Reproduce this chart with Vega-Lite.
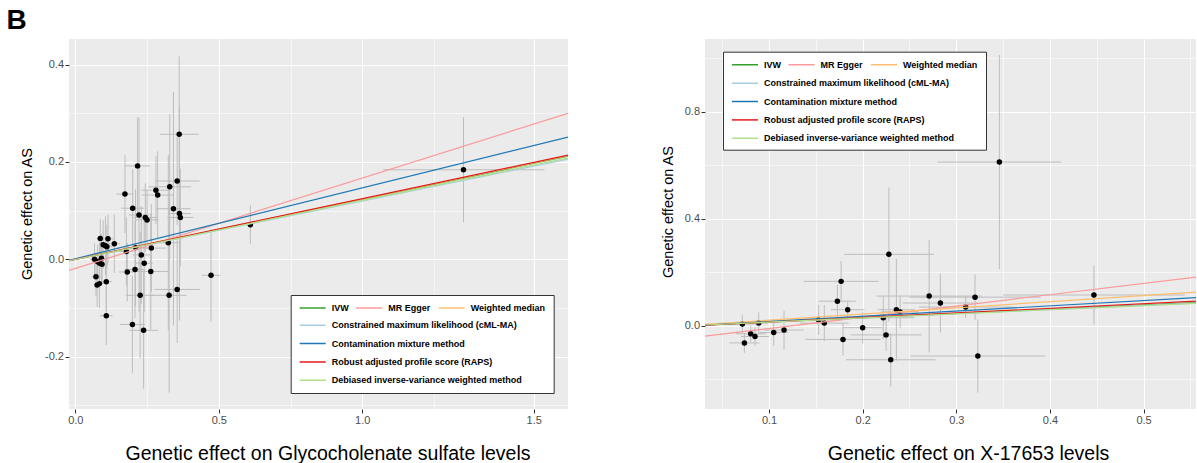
{
  "$schema": "https://vega.github.io/schema/vega-lite/v6.json",
  "background": "white",
  "padding": {"left": 6, "top": 7, "right": 0, "bottom": 0},
  "title": {"text": "B", "anchor": "start", "fontSize": 28, "font": "Liberation Sans", "fontWeight": "bold", "color": "black", "offset": 4, "dx": -13},
  "datasets": {
    "left_pts": [
      {"x":0.067,"y":0.000,"xlo":0.052,"xhi":0.082,"ylo":-0.033,"yhi":0.033},
      {"x":0.072,"y":-0.036,"xlo":0.057,"xhi":0.087,"ylo":-0.076,"yhi":0.004},
      {"x":0.076,"y":-0.053,"xlo":0.064,"xhi":0.088,"ylo":-0.098,"yhi":-0.008},
      {"x":0.084,"y":-0.050,"xlo":0.069,"xhi":0.099,"ylo":-0.100,"yhi":0.000},
      {"x":0.078,"y":-0.005,"xlo":0.066,"xhi":0.090,"ylo":-0.040,"yhi":0.030},
      {"x":0.085,"y":-0.008,"xlo":0.070,"xhi":0.100,"ylo":-0.058,"yhi":0.042},
      {"x":0.091,"y":0.002,"xlo":0.076,"xhi":0.106,"ylo":-0.048,"yhi":0.052},
      {"x":0.087,"y":0.043,"xlo":0.075,"xhi":0.099,"ylo":0.003,"yhi":0.083},
      {"x":0.093,"y":-0.010,"xlo":0.073,"xhi":0.113,"ylo":-0.050,"yhi":0.030},
      {"x":0.097,"y":0.030,"xlo":0.082,"xhi":0.112,"ylo":-0.020,"yhi":0.080},
      {"x":0.105,"y":0.028,"xlo":0.087,"xhi":0.123,"ylo":-0.032,"yhi":0.088},
      {"x":0.110,"y":0.026,"xlo":0.090,"xhi":0.130,"ylo":-0.019,"yhi":0.071},
      {"x":0.114,"y":0.042,"xlo":0.094,"xhi":0.134,"ylo":-0.008,"yhi":0.092},
      {"x":0.108,"y":-0.046,"xlo":0.088,"xhi":0.128,"ylo":-0.106,"yhi":0.014},
      {"x":0.108,"y":-0.116,"xlo":0.086,"xhi":0.130,"ylo":-0.176,"yhi":-0.056},
      {"x":0.136,"y":0.032,"xlo":0.116,"xhi":0.156,"ylo":-0.028,"yhi":0.092},
      {"x":0.173,"y":0.134,"xlo":0.143,"xhi":0.203,"ylo":0.054,"yhi":0.214},
      {"x":0.178,"y":0.016,"xlo":0.153,"xhi":0.203,"ylo":-0.054,"yhi":0.086},
      {"x":0.181,"y":-0.026,"xlo":0.151,"xhi":0.211,"ylo":-0.086,"yhi":0.034},
      {"x":0.200,"y":0.105,"xlo":0.160,"xhi":0.240,"ylo":0.025,"yhi":0.185},
      {"x":0.199,"y":-0.134,"xlo":0.155,"xhi":0.243,"ylo":-0.234,"yhi":-0.034},
      {"x":0.208,"y":-0.021,"xlo":0.173,"xhi":0.243,"ylo":-0.121,"yhi":0.079},
      {"x":0.210,"y":0.024,"xlo":0.170,"xhi":0.250,"ylo":-0.096,"yhi":0.144},
      {"x":0.217,"y":0.192,"xlo":0.174,"xhi":0.260,"ylo":0.092,"yhi":0.292},
      {"x":0.222,"y":0.091,"xlo":0.187,"xhi":0.257,"ylo":-0.109,"yhi":0.291},
      {"x":0.226,"y":-0.074,"xlo":0.176,"xhi":0.276,"ylo":-0.204,"yhi":0.056},
      {"x":0.230,"y":0.009,"xlo":0.200,"xhi":0.260,"ylo":-0.091,"yhi":0.109},
      {"x":0.240,"y":-0.008,"xlo":0.210,"xhi":0.270,"ylo":-0.108,"yhi":0.092},
      {"x":0.238,"y":-0.146,"xlo":0.188,"xhi":0.288,"ylo":-0.266,"yhi":-0.026},
      {"x":0.244,"y":0.086,"xlo":0.204,"xhi":0.284,"ylo":0.016,"yhi":0.156},
      {"x":0.250,"y":0.081,"xlo":0.210,"xhi":0.290,"ylo":0.021,"yhi":0.141},
      {"x":0.263,"y":-0.025,"xlo":0.203,"xhi":0.323,"ylo":-0.145,"yhi":0.095},
      {"x":0.265,"y":0.023,"xlo":0.215,"xhi":0.315,"ylo":-0.067,"yhi":0.113},
      {"x":0.281,"y":0.142,"xlo":0.231,"xhi":0.331,"ylo":0.072,"yhi":0.212},
      {"x":0.287,"y":0.132,"xlo":0.232,"xhi":0.342,"ylo":0.042,"yhi":0.222},
      {"x":0.324,"y":0.034,"xlo":0.284,"xhi":0.364,"ylo":-0.146,"yhi":0.214},
      {"x":0.327,"y":-0.074,"xlo":0.267,"xhi":0.387,"ylo":-0.274,"yhi":0.126},
      {"x":0.329,"y":0.149,"xlo":0.254,"xhi":0.404,"ylo":-0.001,"yhi":0.299},
      {"x":0.342,"y":0.104,"xlo":0.282,"xhi":0.402,"ylo":-0.136,"yhi":0.344},
      {"x":0.355,"y":0.161,"xlo":0.277,"xhi":0.433,"ylo":0.071,"yhi":0.251},
      {"x":0.355,"y":-0.062,"xlo":0.275,"xhi":0.435,"ylo":-0.172,"yhi":0.048},
      {"x":0.362,"y":0.257,"xlo":0.294,"xhi":0.430,"ylo":0.097,"yhi":0.417},
      {"x":0.363,"y":0.094,"xlo":0.323,"xhi":0.403,"ylo":-0.126,"yhi":0.314},
      {"x":0.366,"y":0.086,"xlo":0.321,"xhi":0.411,"ylo":-0.014,"yhi":0.186},
      {"x":0.473,"y":-0.033,"xlo":0.441,"xhi":0.505,"ylo":-0.128,"yhi":0.062},
      {"x":0.610,"y":0.071,"xlo":0.600,"xhi":0.620,"ylo":0.031,"yhi":0.111},
      {"x":1.324,"y":0.184,"xlo":1.073,"xhi":1.527,"ylo":0.076,"yhi":0.292}
    ],
    "right_pts": [
      {"x":0.0715,"y":0.007,"xlo":0.0565,"xhi":0.0865,"ylo":-0.028,"yhi":0.042},
      {"x":0.0737,"y":-0.064,"xlo":0.0577,"xhi":0.0897,"ylo":-0.101,"yhi":-0.027},
      {"x":0.0804,"y":-0.030,"xlo":0.0644,"xhi":0.0964,"ylo":-0.060,"yhi":0.000},
      {"x":0.085,"y":-0.040,"xlo":0.070,"xhi":0.100,"ylo":-0.075,"yhi":-0.005},
      {"x":0.089,"y":0.010,"xlo":0.079,"xhi":0.099,"ylo":-0.030,"yhi":0.050},
      {"x":0.105,"y":-0.025,"xlo":0.090,"xhi":0.120,"ylo":-0.075,"yhi":0.025},
      {"x":0.116,"y":-0.016,"xlo":0.095,"xhi":0.137,"ylo":-0.088,"yhi":0.056},
      {"x":0.153,"y":0.022,"xlo":0.128,"xhi":0.178,"ylo":-0.034,"yhi":0.078},
      {"x":0.159,"y":0.010,"xlo":0.133,"xhi":0.185,"ylo":-0.058,"yhi":0.078},
      {"x":0.173,"y":0.092,"xlo":0.153,"xhi":0.193,"ylo":0.030,"yhi":0.154},
      {"x":0.177,"y":0.166,"xlo":0.137,"xhi":0.217,"ylo":0.090,"yhi":0.242},
      {"x":0.179,"y":-0.051,"xlo":0.139,"xhi":0.219,"ylo":-0.111,"yhi":0.009},
      {"x":0.184,"y":0.060,"xlo":0.166,"xhi":0.202,"ylo":0.030,"yhi":0.090},
      {"x":0.200,"y":-0.007,"xlo":0.179,"xhi":0.221,"ylo":-0.067,"yhi":0.053},
      {"x":0.222,"y":0.030,"xlo":0.189,"xhi":0.255,"ylo":-0.050,"yhi":0.110},
      {"x":0.225,"y":-0.034,"xlo":0.187,"xhi":0.263,"ylo":-0.094,"yhi":0.026},
      {"x":0.228,"y":0.267,"xlo":0.180,"xhi":0.276,"ylo":0.017,"yhi":0.517},
      {"x":0.230,"y":-0.127,"xlo":0.182,"xhi":0.278,"ylo":-0.227,"yhi":-0.027},
      {"x":0.236,"y":0.060,"xlo":0.216,"xhi":0.256,"ylo":-0.130,"yhi":0.250},
      {"x":0.240,"y":0.052,"xlo":0.220,"xhi":0.260,"ylo":-0.008,"yhi":0.112},
      {"x":0.271,"y":0.111,"xlo":0.215,"xhi":0.327,"ylo":-0.099,"yhi":0.321},
      {"x":0.283,"y":0.085,"xlo":0.243,"xhi":0.323,"ylo":-0.025,"yhi":0.195},
      {"x":0.310,"y":0.070,"xlo":0.260,"xhi":0.360,"ylo":0.030,"yhi":0.110},
      {"x":0.320,"y":0.107,"xlo":0.250,"xhi":0.390,"ylo":0.022,"yhi":0.192},
      {"x":0.323,"y":-0.113,"xlo":0.251,"xhi":0.395,"ylo":-0.250,"yhi":0.024},
      {"x":0.346,"y":0.612,"xlo":0.280,"xhi":0.412,"ylo":0.212,"yhi":1.012},
      {"x":0.447,"y":0.115,"xlo":0.350,"xhi":0.544,"ylo":0.005,"yhi":0.225}
    ],
    "left_lines": [
      {"method":"IVW","x":-0.022,"y":-0.003},{"method":"IVW","x":1.586,"y":0.212},
      {"method":"MR Egger","x":-0.022,"y":-0.023},{"method":"MR Egger","x":1.586,"y":0.300},
      {"method":"Weighted median","x":-0.022,"y":-0.003},{"method":"Weighted median","x":1.586,"y":0.213},
      {"method":"Constrained maximum likelihood (cML-MA)","x":-0.022,"y":-0.003},{"method":"Constrained maximum likelihood (cML-MA)","x":1.586,"y":0.206},
      {"method":"Contamination mixture method","x":-0.022,"y":-0.002},{"method":"Contamination mixture method","x":1.586,"y":0.251},
      {"method":"Robust adjusted profile score (RAPS)","x":-0.022,"y":-0.003},{"method":"Robust adjusted profile score (RAPS)","x":1.586,"y":0.214},
      {"method":"Debiased inverse-variance weighted method","x":-0.022,"y":-0.003},{"method":"Debiased inverse-variance weighted method","x":1.586,"y":0.208}
    ],
    "right_lines": [
      {"method":"IVW","x":0.0316,"y":0.003},{"method":"IVW","x":0.556,"y":0.087},
      {"method":"MR Egger","x":0.0316,"y":-0.039},{"method":"MR Egger","x":0.556,"y":0.182},
      {"method":"Weighted median","x":0.0316,"y":0.005},{"method":"Weighted median","x":0.556,"y":0.126},
      {"method":"Constrained maximum likelihood (cML-MA)","x":0.0316,"y":0.003},{"method":"Constrained maximum likelihood (cML-MA)","x":0.556,"y":0.085},
      {"method":"Contamination mixture method","x":0.0316,"y":0.0025},{"method":"Contamination mixture method","x":0.556,"y":0.105},
      {"method":"Robust adjusted profile score (RAPS)","x":0.0316,"y":0.002},{"method":"Robust adjusted profile score (RAPS)","x":0.556,"y":0.092},
      {"method":"Debiased inverse-variance weighted method","x":0.0316,"y":0.003},{"method":"Debiased inverse-variance weighted method","x":0.556,"y":0.084}
    ]
  },
  "spacing": 137,
  "bounds": "flush",
  "resolve": {"scale": {"color": "independent", "stroke": "independent"}, "legend": {"color": "independent", "stroke": "independent"}},
  "hconcat": [
    {
      "width": 499, "height": 370,
      "layer": [
        {
          "data": {"name": "left_pts"},
          "mark": {"type": "rule", "color": "#bdbdbd", "strokeWidth": 1},
          "encoding": {
            "x": {"field": "xlo", "type": "quantitative", "title": "Genetic effect on Glycocholenate sulfate levels",
              "scale": {"domain": [-0.022, 1.25, 1.5, 1.586], "range": [0, 365, 464.7, 499], "nice": false, "zero": false},
              "axis": {"values": [0, 0.25, 0.5, 0.75, 1, 1.25, 1.5], "format": ".1f", "titleX": 258.5,
                "labelExpr": "abs(datum.value*2-round(datum.value*2))<0.001 ? replace(datum.label, '\u2212', '-') : ''",
                "gridWidth": {"condition": {"test": "abs(datum.value*2-round(datum.value*2))<0.001", "value": 1.1}, "value": 0.55},
                "tickOpacity": {"condition": {"test": "abs(datum.value*2-round(datum.value*2))<0.001", "value": 1}, "value": 0}}},
            "x2": {"field": "xhi"},
            "y": {"field": "y", "type": "quantitative", "title": "Genetic effect on AS",
              "scale": {"domain": [-0.3077, 0.4528], "nice": false, "zero": false},
              "axis": {"values": [-0.3, -0.2, -0.1, 0, 0.1, 0.2, 0.3, 0.4], "format": ".1f", "titlePadding": 10, "titleY": 174.5,
                "labelExpr": "abs(datum.value*5-round(datum.value*5))<0.001 ? replace(datum.label, '\u2212', '-') : ''",
                "gridWidth": {"condition": {"test": "abs(datum.value*5-round(datum.value*5))<0.001", "value": 1.1}, "value": 0.55},
                "tickOpacity": {"condition": {"test": "abs(datum.value*5-round(datum.value*5))<0.001", "value": 1}, "value": 0}}}
          }
        },
        {
          "data": {"name": "left_pts"},
          "mark": {"type": "rule", "color": "#bdbdbd", "strokeWidth": 1},
          "encoding": {
            "x": {"field": "x", "type": "quantitative", "title": "Genetic effect on Glycocholenate sulfate levels",
              "scale": {"domain": [-0.022, 1.25, 1.5, 1.586], "range": [0, 365, 464.7, 499], "nice": false, "zero": false}},
            "y": {"field": "ylo", "type": "quantitative", "title": "Genetic effect on AS",
              "scale": {"domain": [-0.3077, 0.4528], "nice": false, "zero": false}},
            "y2": {"field": "yhi"}
          }
        },
        {
          "data": {"name": "left_pts"},
          "mark": {"type": "circle", "color": "black", "size": 30, "opacity": 1},
          "encoding": {
            "x": {"field": "x", "type": "quantitative", "title": "Genetic effect on Glycocholenate sulfate levels",
              "scale": {"domain": [-0.022, 1.25, 1.5, 1.586], "range": [0, 365, 464.7, 499], "nice": false, "zero": false}},
            "y": {"field": "y", "type": "quantitative", "title": "Genetic effect on AS",
              "scale": {"domain": [-0.3077, 0.4528], "nice": false, "zero": false}}
          }
        },
        {
          "data": {"name": "left_lines"},
          "transform": [{"filter": {"field": "method", "oneOf": ["IVW", "MR Egger", "Weighted median"]}}],
          "mark": {"type": "line", "strokeWidth": 1.2, "clip": true},
          "encoding": {
            "x": {"field": "x", "type": "quantitative", "title": "Genetic effect on Glycocholenate sulfate levels",
              "scale": {"domain": [-0.022, 1.25, 1.5, 1.586], "range": [0, 365, 464.7, 499], "nice": false, "zero": false}},
            "y": {"field": "y", "type": "quantitative", "title": "Genetic effect on AS",
              "scale": {"domain": [-0.3077, 0.4528], "nice": false, "zero": false}},
            "stroke": {"field": "method", "type": "nominal",
              "scale": {"domain": ["IVW", "MR Egger", "Weighted median"], "range": ["#33a02c", "#fb9a99", "#fdbf6f"]},
              "legend": {"orient": "none", "legendX": 221.7, "legendY": 256, "direction": "horizontal", "columns": 3,
                "title": "\u00a0", "titleOrient": "bottom", "titleFontSize": 64, "titlePadding": 8,
                "padding": 8, "fillColor": "white", "strokeColor": "#333333"}}
          }
        },
        {
          "data": {"name": "left_lines"},
          "transform": [{"filter": {"field": "method", "oneOf": ["Constrained maximum likelihood (cML-MA)", "Contamination mixture method", "Robust adjusted profile score (RAPS)", "Debiased inverse-variance weighted method"]}}],
          "mark": {"type": "line", "strokeWidth": 1.2, "clip": true},
          "encoding": {
            "x": {"field": "x", "type": "quantitative", "title": "Genetic effect on Glycocholenate sulfate levels",
              "scale": {"domain": [-0.022, 1.25, 1.5, 1.586], "range": [0, 365, 464.7, 499], "nice": false, "zero": false}},
            "y": {"field": "y", "type": "quantitative", "title": "Genetic effect on AS",
              "scale": {"domain": [-0.3077, 0.4528], "nice": false, "zero": false}},
            "color": {"field": "method", "type": "nominal",
              "scale": {"domain": ["Constrained maximum likelihood (cML-MA)", "Contamination mixture method", "Robust adjusted profile score (RAPS)", "Debiased inverse-variance weighted method"], "range": ["#a6cee3", "#1f78b4", "#e31a1c", "#b2df8a"]},
              "legend": {"orient": "none", "legendX": 229.7, "legendY": 281.3, "direction": "vertical", "columns": 1,
                "title": null, "padding": 0}}
          }
        }
      ]
    },
    {
      "width": 491, "height": 370,
      "layer": [
        {
          "data": {"name": "right_pts"},
          "mark": {"type": "rule", "color": "#bdbdbd", "strokeWidth": 1},
          "encoding": {
            "x": {"field": "xlo", "type": "quantitative", "title": "Genetic effect on X-17653 levels",
              "scale": {"domain": [0.0316, 0.556], "nice": false, "zero": false},
              "axis": {"values": [0.05, 0.1, 0.15, 0.2, 0.25, 0.3, 0.35, 0.4, 0.45, 0.5, 0.55], "format": ".1f", "titleX": 263,
                "labelExpr": "abs(datum.value*10-round(datum.value*10))<0.001 ? replace(datum.label, '\u2212', '-') : ''",
                "gridWidth": {"condition": {"test": "abs(datum.value*10-round(datum.value*10))<0.001", "value": 1.1}, "value": 0.55},
                "tickOpacity": {"condition": {"test": "abs(datum.value*10-round(datum.value*10))<0.001", "value": 1}, "value": 0}}},
            "x2": {"field": "xhi"},
            "y": {"field": "y", "type": "quantitative", "title": "Genetic effect on AS",
              "scale": {"domain": [-0.311, 1.0718], "nice": false, "zero": false},
              "axis": {"values": [-0.2, 0, 0.2, 0.4, 0.6, 0.8, 1.0], "format": ".1f", "titlePadding": 9, "titleY": 172.5,
                "labelExpr": "abs(datum.value*2.5-round(datum.value*2.5))<0.001 ? replace(datum.label, '\u2212', '-') : ''",
                "gridWidth": {"condition": {"test": "abs(datum.value*2.5-round(datum.value*2.5))<0.001", "value": 1.1}, "value": 0.55},
                "tickOpacity": {"condition": {"test": "abs(datum.value*2.5-round(datum.value*2.5))<0.001", "value": 1}, "value": 0}}}
          }
        },
        {
          "data": {"name": "right_pts"},
          "mark": {"type": "rule", "color": "#bdbdbd", "strokeWidth": 1},
          "encoding": {
            "x": {"field": "x", "type": "quantitative", "title": "Genetic effect on X-17653 levels",
              "scale": {"domain": [0.0316, 0.556], "nice": false, "zero": false}},
            "y": {"field": "ylo", "type": "quantitative", "title": "Genetic effect on AS",
              "scale": {"domain": [-0.311, 1.0718], "nice": false, "zero": false}},
            "y2": {"field": "yhi"}
          }
        },
        {
          "data": {"name": "right_pts"},
          "mark": {"type": "circle", "color": "black", "size": 30, "opacity": 1},
          "encoding": {
            "x": {"field": "x", "type": "quantitative", "title": "Genetic effect on X-17653 levels",
              "scale": {"domain": [0.0316, 0.556], "nice": false, "zero": false}},
            "y": {"field": "y", "type": "quantitative", "title": "Genetic effect on AS",
              "scale": {"domain": [-0.311, 1.0718], "nice": false, "zero": false}}
          }
        },
        {
          "data": {"name": "right_lines"},
          "transform": [{"filter": {"field": "method", "oneOf": ["IVW", "MR Egger", "Weighted median"]}}],
          "mark": {"type": "line", "strokeWidth": 1.2, "clip": true},
          "encoding": {
            "x": {"field": "x", "type": "quantitative", "title": "Genetic effect on X-17653 levels",
              "scale": {"domain": [0.0316, 0.556], "nice": false, "zero": false}},
            "y": {"field": "y", "type": "quantitative", "title": "Genetic effect on AS",
              "scale": {"domain": [-0.311, 1.0718], "nice": false, "zero": false}},
            "stroke": {"field": "method", "type": "nominal",
              "scale": {"domain": ["IVW", "MR Egger", "Weighted median"], "range": ["#33a02c", "#fb9a99", "#fdbf6f"]},
              "legend": {"orient": "none", "legendX": 18, "legendY": 12.7, "direction": "horizontal", "columns": 3,
                "title": "\u00a0", "titleOrient": "bottom", "titleFontSize": 64, "titlePadding": 8,
                "padding": 8, "fillColor": "white", "strokeColor": "#333333"}}
          }
        },
        {
          "data": {"name": "right_lines"},
          "transform": [{"filter": {"field": "method", "oneOf": ["Constrained maximum likelihood (cML-MA)", "Contamination mixture method", "Robust adjusted profile score (RAPS)", "Debiased inverse-variance weighted method"]}}],
          "mark": {"type": "line", "strokeWidth": 1.2, "clip": true},
          "encoding": {
            "x": {"field": "x", "type": "quantitative", "title": "Genetic effect on X-17653 levels",
              "scale": {"domain": [0.0316, 0.556], "nice": false, "zero": false}},
            "y": {"field": "y", "type": "quantitative", "title": "Genetic effect on AS",
              "scale": {"domain": [-0.311, 1.0718], "nice": false, "zero": false}},
            "color": {"field": "method", "type": "nominal",
              "scale": {"domain": ["Constrained maximum likelihood (cML-MA)", "Contamination mixture method", "Robust adjusted profile score (RAPS)", "Debiased inverse-variance weighted method"], "range": ["#a6cee3", "#1f78b4", "#e31a1c", "#b2df8a"]},
              "legend": {"orient": "none", "legendX": 26, "legendY": 39.3, "direction": "vertical", "columns": 1,
                "title": null, "padding": 0}}
          }
        }
      ]
    }
  ],
  "config": {
    "view": {"fill": "#ebebeb", "stroke": null},
    "axis": {"domain": false, "gridColor": "#ffffff", "tickColor": "#333333", "tickSize": 4, "tickWidth": 1,
      "labelColor": "#4d4d4d", "labelFont": "Liberation Sans", "labelFontSize": 11, "labelPadding": 1.5,
      "titleFont": "Liberation Sans", "titleFontWeight": "normal", "titleColor": "#000000",
      "labelFlush": false, "labelOverlap": false, "labelBound": false},
    "axisX": {"titleFontSize": 19.5, "titlePadding": 19},
    "axisY": {"titleFontSize": 14.5},
    "legend": {"labelFont": "Liberation Sans", "labelFontWeight": "bold", "labelFontSize": 9, "labelColor": "#000000",
      "labelLimit": 400, "titleLimit": 400, "symbolType": "stroke", "symbolSize": 676, "symbolStrokeWidth": 1.5,
      "labelOffset": 5, "clipHeight": 10, "rowPadding": 8.3, "columnPadding": 6.5}
  }
}
